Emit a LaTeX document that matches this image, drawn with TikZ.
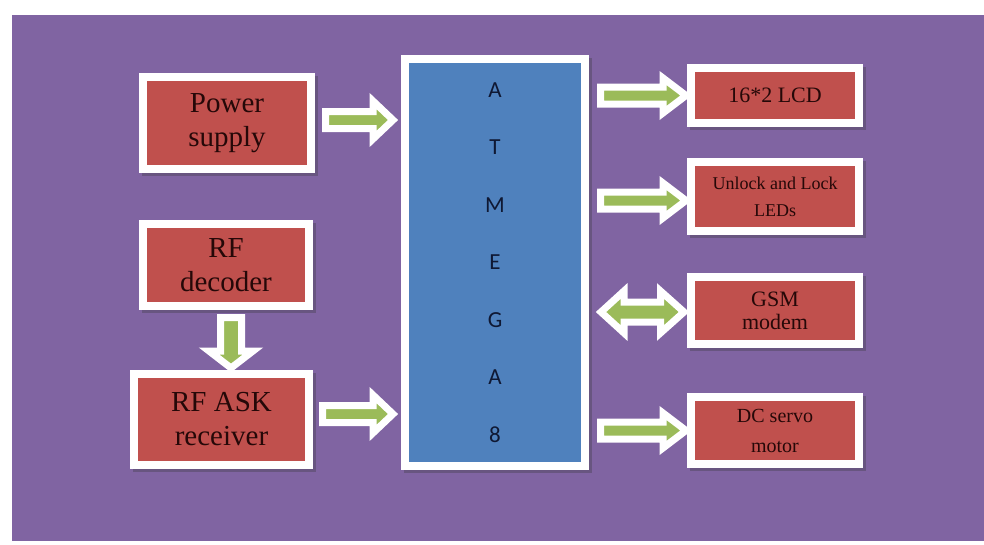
\documentclass[tikz,border=0pt]{standalone}
\usepackage{fontspec}
\setmainfont{Liberation Serif}
\newfontfamily\mcufont{Carlito}
\usetikzlibrary{calc,shadows}
\definecolor{bgpurple}{HTML}{8064A2}
\definecolor{boxred}{HTML}{C0504D}
\definecolor{mcublue}{HTML}{4F81BD}
\definecolor{arrgreen}{HTML}{9BBB59}
\definecolor{boxtext}{HTML}{250808}
\definecolor{mcutext}{HTML}{0F1833}
\tikzset{
  boxshadow/.style={drop shadow={shadow xshift=2.5pt, shadow yshift=-2.5pt,
    opacity=0.3, fill=black!80, draw=black!80, line width=8pt}},
  redbox/.style={draw=white, line width=8pt, fill=boxred, rectangle, inner sep=0pt,
    align=center, text=boxtext, boxshadow},
  mcubox/.style={draw=white, line width=8pt, fill=mcublue, rectangle, inner sep=0pt,
    align=center, text=mcutext, boxshadow, font=\mcufont\fontsize{23}{57.5}\selectfont},
  barrow/.style={draw=white, line width=7pt, fill=arrgreen, line join=miter},
}
% right-pointing block arrow: #1 tail, #2 tip (x used), #3 shaft half, #4 head half, #5 head length
\newcommand\rarr[5]{\draw[barrow] let \p1=(#1), \p2=(#2) in
  (\x1,\y1+#3) -- (\x2-#5,\y1+#3) -- (\x2-#5,\y1+#4) -- (\x2,\y1)
  -- (\x2-#5,\y1-#4) -- (\x2-#5,\y1-#3) -- (\x1,\y1-#3) -- cycle;}
% down-pointing block arrow: #1 tail, #2 tip (y used)
\newcommand\darr[5]{\draw[barrow] let \p1=(#1), \p2=(#2) in
  (\x1-#3,\y1) -- (\x1-#3,\y2+#5) -- (\x1-#4,\y2+#5) -- (\x1,\y2)
  -- (\x1+#4,\y2+#5) -- (\x1+#3,\y2+#5) -- (\x1+#3,\y1) -- cycle;}
% double block arrow: #1 left tip, #2 right tip (x used)
\newcommand\lrarr[6]{\draw[barrow] let \p1=(#1), \p2=(#2) in
  (\x1,\y1) -- (\x1+#5,\y1+#4) -- (\x1+#5,\y1+#3) -- (\x2-#6,\y1+#3)
  -- (\x2-#6,\y1+#4) -- (\x2,\y1) -- (\x2-#6,\y1-#4) -- (\x2-#6,\y1-#3)
  -- (\x1+#5,\y1-#3) -- (\x1+#5,\y1-#4) -- cycle;}
\begin{document}
\begin{tikzpicture}[x=1pt, y=-1pt]
\useasboundingbox (0,0) rectangle (984,544);
\fill[white] (0,0) rectangle (984,544);
\fill[bgpurple] (12,15) rectangle (984,541);

% boxes
\node[redbox, minimum width=168pt, minimum height=92pt,
  font=\fontsize{29}{34}\selectfont] (ps) at (227,123) {Power\\supply};
\node[redbox, minimum width=166pt, minimum height=82pt,
  font=\fontsize{29}{34}\selectfont] (dec) at (226,265) {RF\\decoder};
\node[redbox, minimum width=175pt, minimum height=91pt,
  font=\fontsize{29}{34}\selectfont] (ask) at (221.5,419.5) {RF ASK\\receiver};
\node[mcubox, minimum width=180pt, minimum height=407pt] (mcu) at (495,262.5)
  {A\\T\\M\\E\\G\\A\\8};
\node[redbox, minimum width=168pt, minimum height=55pt,
  font=\fontsize{22}{26}\selectfont] (lcd) at (775,95.5) {16*2 LCD};
\node[redbox, minimum width=168pt, minimum height=69pt,
  font=\fontsize{18}{27}\selectfont] (led) at (775,196.5) {Unlock and Lock\\LEDs};
\node[redbox, minimum width=168pt, minimum height=67pt,
  font=\fontsize{22}{23}\selectfont] (gsm) at (775,310.5) {GSM\\modem};
\node[redbox, minimum width=168pt, minimum height=67pt,
  font=\fontsize{20}{30}\selectfont] (dc) at (775,430.5) {DC servo\\motor};

% arrows
\rarr{$(ps.east)+(10.5,-3)$}{$(mcu.west)+(-8,0)$}{8.5pt}{19pt}{20pt}
\rarr{$(ask.east)+(9.5,-5.5)$}{$(mcu.west)+(-8,0)$}{8.5pt}{19pt}{20pt}
\darr{$(dec.south)+(5,7.5)$}{$(ask.north)+(0,-2)$}{10.5pt}{22pt}{17pt}
\rarr{$(mcu.east |- lcd.west)+(11.5,0)$}{$(lcd.west)+(-1,0)$}{8.5pt}{17.5pt}{23pt}
\rarr{$(mcu.east |- led.west)+(11.5,4)$}{$(led.west)+(-1,0)$}{8.5pt}{17.5pt}{23pt}
\lrarr{$(mcu.east |- gsm.west)+(12,1.5)$}{$(gsm.west)+(-3,0)$}{10pt}{21pt}{23pt}{23.5pt}
\rarr{$(mcu.east |- dc.west)+(11.5,0)$}{$(dc.west)+(-1,0)$}{8.5pt}{17.5pt}{23pt}
\end{tikzpicture}
\end{document}
